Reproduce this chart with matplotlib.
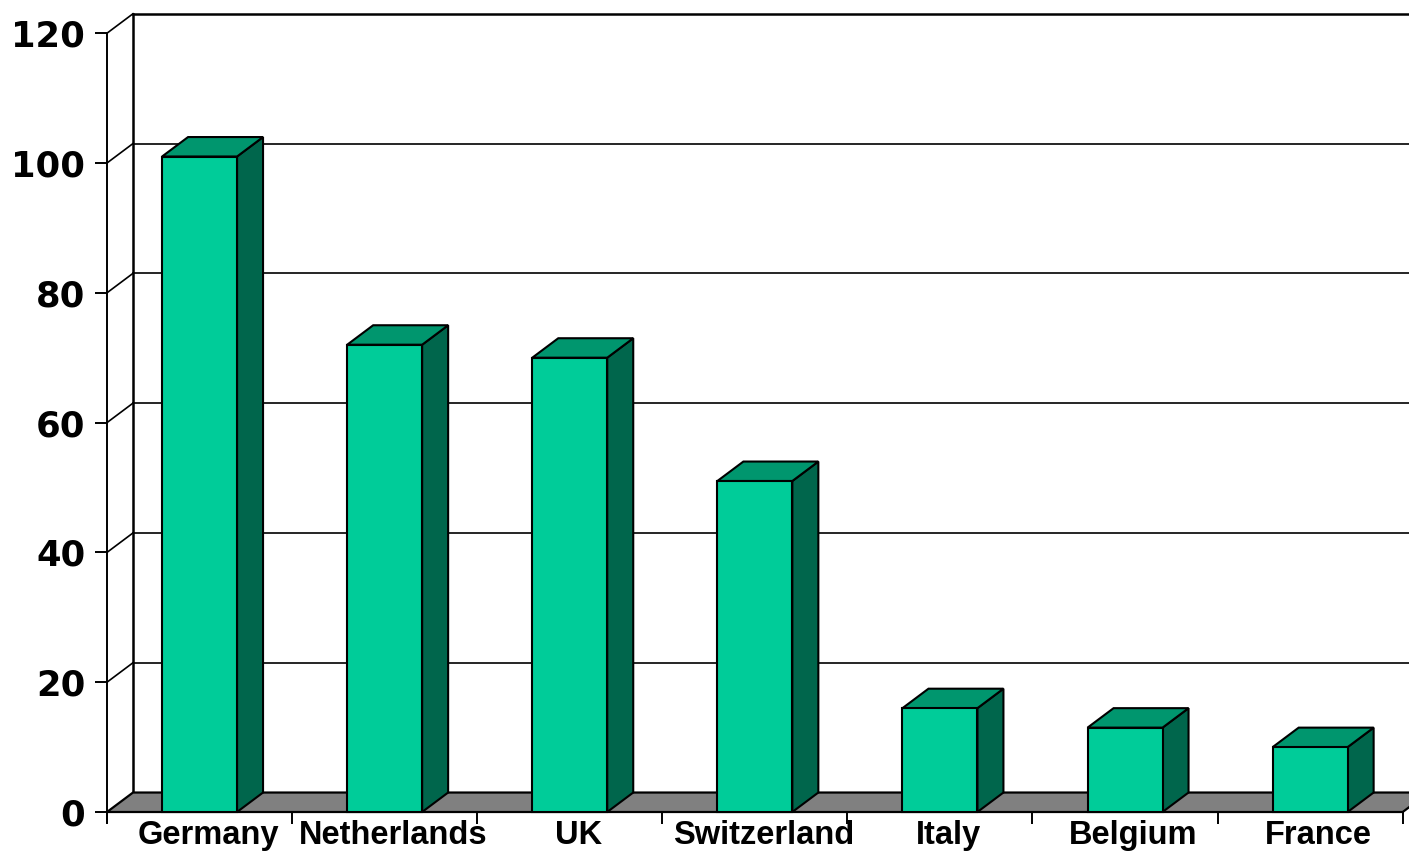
import matplotlib
matplotlib.use("Agg")
import matplotlib.pyplot as plt
from matplotlib.patches import Polygon, Rectangle

countries = ["Germany", "Netherlands", "UK", "Switzerland", "Italy", "Belgium", "France"]
values = [101, 72, 70, 51, 16, 13, 10]
yticks = [0, 20, 40, 60, 80, 100, 120]

front_c = "#00CC99"
top_c = "#00966E"
side_c = "#00664C"
floor_c = "#808080"

# fake 3d depth, in data units
dx = 0.1405
dy = 3.0
bw = 0.405

fig = plt.figure(figsize=(14.09, 8.51), dpi=100)
ax = fig.add_axes([107 / 1409, 0, 1302 / 1409, 1])
ax.set_xlim(-0.5, -0.5 + 1302 / 185.1)
ax.set_ylim(-39 / 6.49, 812 / 6.49)

n = len(countries)
xr = ax.get_xlim()[1]

# back wall + grid
ax.plot([-0.5 + dx, -0.5 + dx], [dy, 120 + dy], color="black", lw=1.8, zorder=1)
for v in yticks[1:]:
    lw = 1.8 if v == 120 else 1.2
    ax.plot([-0.5 + dx, xr], [v + dy, v + dy], color="black", lw=lw, zorder=1)
    ax.plot([-0.5, -0.5 + dx], [v, v + dy], color="black", lw=1.2, zorder=1)

# floor
ax.add_patch(Polygon([(-0.5, 0), (n - 0.5, 0), (n - 0.5 + dx, dy), (-0.5 + dx, dy)],
                     closed=True, fc=floor_c, ec="black", lw=1.6, zorder=2))

# bars
for i, v in enumerate(values):
    x0, x1 = i - bw / 2, i + bw / 2
    ax.add_patch(Polygon([(x1, 0), (x1 + dx, dy), (x1 + dx, v + dy), (x1, v)],
                         closed=True, fc=side_c, ec="black", lw=1.5, zorder=3))
    ax.add_patch(Polygon([(x0, v), (x1, v), (x1 + dx, v + dy), (x0 + dx, v + dy)],
                         closed=True, fc=top_c, ec="black", lw=1.5, zorder=3))
    ax.add_patch(Rectangle((x0, 0), bw, v, fc=front_c, ec="black", lw=1.5, zorder=4))

for s in ["top", "right"]:
    ax.spines[s].set_visible(False)
ax.spines["left"].set_bounds(-1.6, 120)
ax.spines["left"].set_linewidth(1.4)
ax.spines["bottom"].set_position(("data", 0))
ax.spines["bottom"].set_bounds(-0.5, n - 0.5)
ax.spines["bottom"].set_linewidth(1.4)

ax.set_yticks(yticks)
ax.set_yticklabels([str(t) for t in yticks], fontsize=25.5, fontweight="bold", family="DejaVu Sans")
ax.tick_params(axis="y", direction="out", length=8.6, width=1.4, pad=7)

ax.set_xticks([i + 0.045 for i in range(n)])
ax.set_xticklabels(countries, fontsize=23.5, fontweight="bold", family="Liberation Sans")
ax.set_xticks([i - 0.5 for i in range(n + 1)], minor=True)
ax.tick_params(axis="x", which="major", length=0, pad=6)
ax.tick_params(axis="x", which="minor", direction="out", length=8.6, width=1.4)

fig.savefig("out.png", dpi=100)
